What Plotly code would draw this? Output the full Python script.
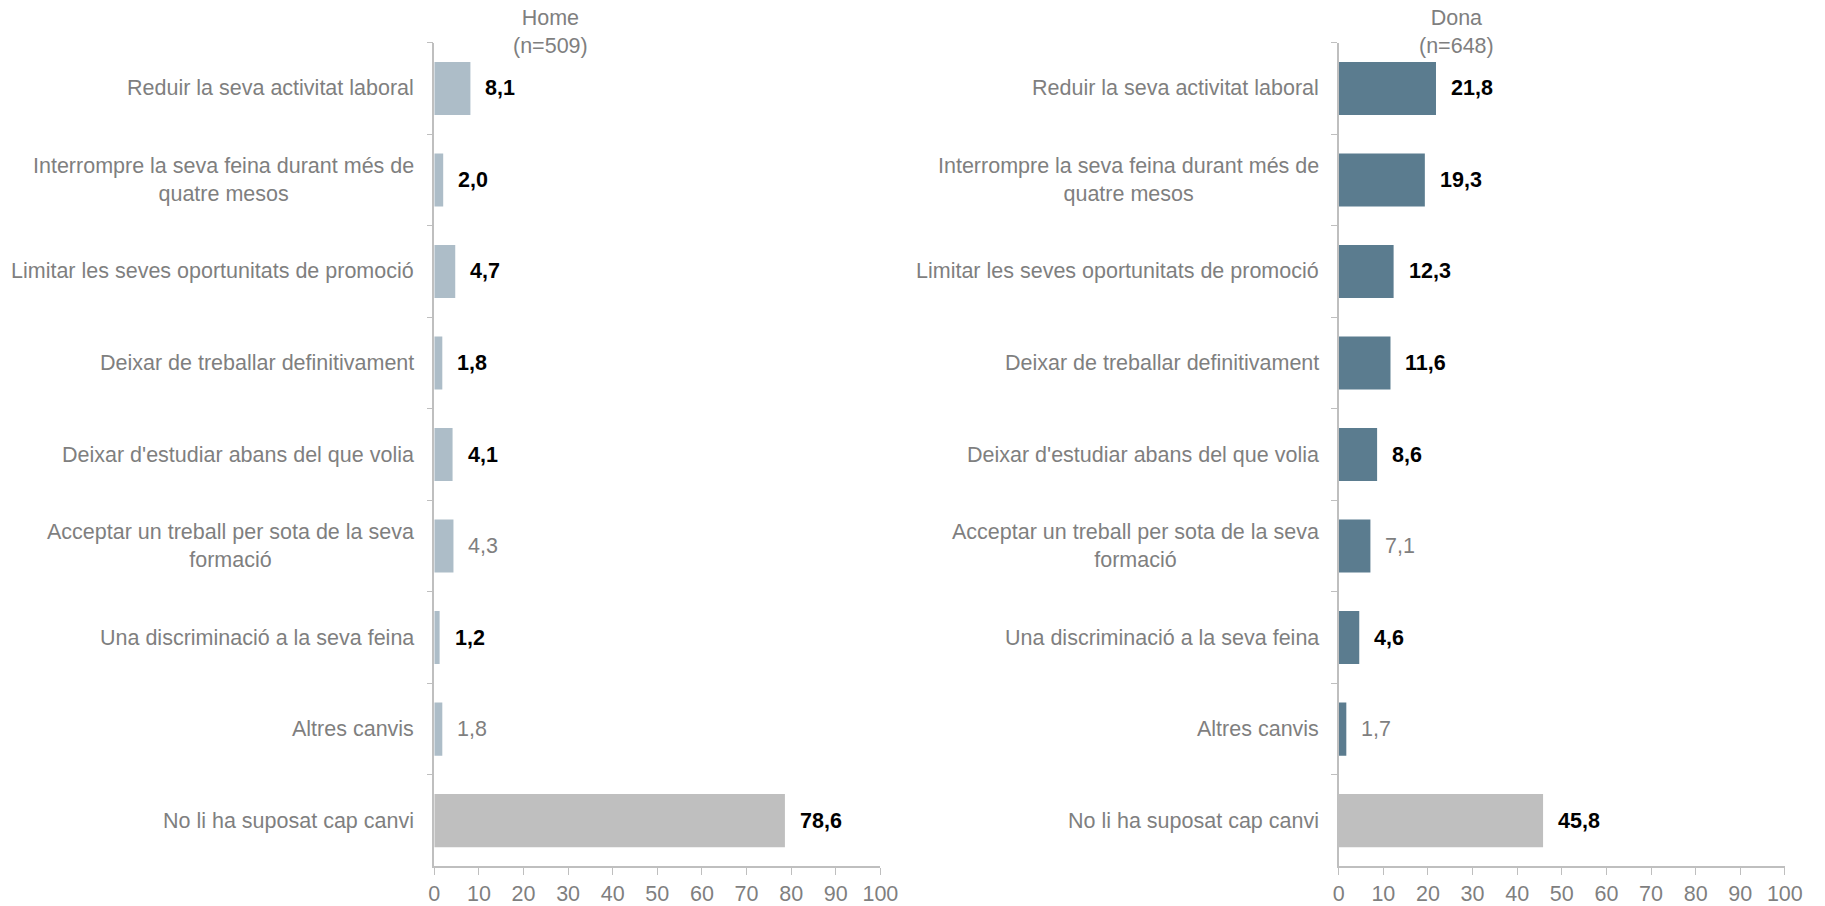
import plotly.graph_objects as go

categories = [
    "Reduir la seva activitat laboral",
    "Interrompre la seva feina durant més de<br>quatre mesos",
    "Limitar les seves oportunitats de promoció",
    "Deixar de treballar definitivament",
    "Deixar d'estudiar abans del que volia",
    "Acceptar un treball per sota de la seva<br>formació",
    "Una discriminació a la seva feina",
    "Altres canvis",
    "No li ha suposat cap canvi",
]
home_values = [8.1, 2.0, 4.7, 1.8, 4.1, 4.3, 1.2, 1.8, 78.6]
dona_values = [21.8, 19.3, 12.3, 11.6, 8.6, 7.1, 4.6, 1.7, 45.8]
significant = [True, True, True, True, True, False, True, False, True]
titles = ["Home<br>(n=509)", "Dona<br>(n=648)"]
x_ticks = [0, 10, 20, 30, 40, 50, 60, 70, 80, 90, 100]

FONT = "Arial, Liberation Sans, sans-serif"
FS = 21.5
GRAY_TEXT = "#7f7f7f"
AXIS = "#bfbfbf"
home_color = "#adbdc8"
dona_color = "#5b7c8f"
none_color = "#bfbfbf"

fig = go.Figure()

panels = [
    (home_values, home_color, "x", "y", 0.3025),
    (dona_values, dona_color, "x2", "y2", 0.8055),
]

for i, (vals, col, xa, ya, tx) in enumerate(panels):
    colors = [col] * (len(vals) - 1) + [none_color]
    fig.add_trace(go.Bar(
        x=vals, y=categories, orientation="h",
        marker=dict(color=colors, line=dict(width=0)),
        xaxis=xa, yaxis=ya, showlegend=False, hoverinfo="skip",
    ))
    for v, c, s in zip(vals, categories, significant):
        lab = f"{v:.1f}".replace(".", ",")
        fig.add_annotation(
            x=v, y=c, xref=xa, yref=ya, text=lab if not s else f"<b>{lab}</b>",
            showarrow=False, xanchor="left", yanchor="middle", xshift=13,
            font=dict(family=FONT, size=FS, color="#000000" if s else GRAY_TEXT),
        )
        fig.add_annotation(
            x=0, y=c, xref=f"{xa} domain", yref=ya, text=c,
            showarrow=False, xanchor="right", yanchor="middle", xshift=-18,
            align="center",
            font=dict(family=FONT, size=FS, color=GRAY_TEXT),
        )
    fig.add_annotation(
        x=tx, y=1.0, xref="paper", yref="paper", text=titles[i],
        showarrow=False, xanchor="center", yanchor="top", align="center",
        yshift=-4,
        font=dict(family=FONT, size=FS, color=GRAY_TEXT),
    )

xaxis_common = dict(
    range=[0, 100], tickvals=x_ticks, ticks="outside", ticklen=7, tickcolor=AXIS,
    showline=True, linecolor=AXIS, linewidth=1.5, showgrid=False, zeroline=False,
    tickfont=dict(family=FONT, size=FS, color=GRAY_TEXT), fixedrange=True,
)
yaxis_common = dict(
    autorange="reversed", showticklabels=False, ticks="outside", ticklen=6,
    tickcolor=AXIS, tickson="boundaries", showline=True, linecolor=AXIS,
    linewidth=1.5, showgrid=False, zeroline=False, domain=[0.0352, 0.9525],
)

fig.update_layout(
    width=1825, height=906, autosize=False,
    margin=dict(l=0, r=0, t=0, b=0),
    paper_bgcolor="white", plot_bgcolor="white",
    bargap=0.42,
    xaxis=dict(domain=[0.2378, 0.4855], anchor="y", **xaxis_common),
    yaxis=dict(anchor="x", **yaxis_common),
    xaxis2=dict(domain=[0.7400, 0.9877], anchor="y2", **xaxis_common),
    yaxis2=dict(anchor="x2", **yaxis_common),
    font=dict(family=FONT),
)

fig.write_html(
    "out.html",
    config={"responsive": False, "displayModeBar": False},
    post_script="document.documentElement.style.overflow='hidden';document.body.style.margin='0px';document.body.style.overflow='hidden';",
)
